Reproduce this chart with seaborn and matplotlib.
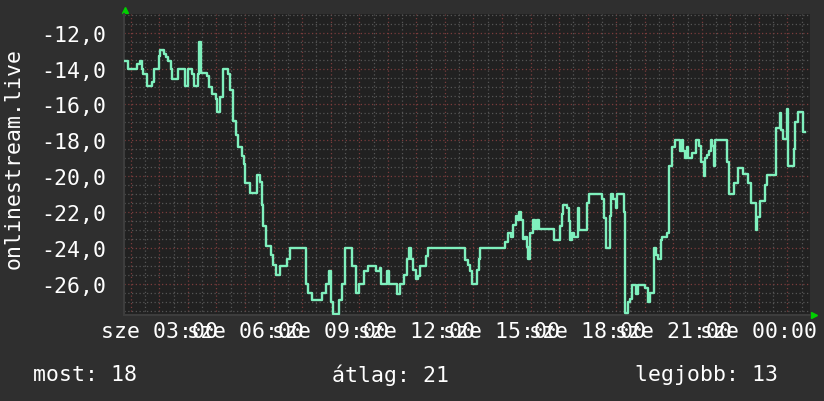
import matplotlib
matplotlib.use("Agg")
import matplotlib.pyplot as plt
import matplotlib.transforms as mtrans
from matplotlib.ticker import MultipleLocator, FuncFormatter
import pandas as pd
import seaborn as sns

# ---- data (hours of the day, value) ----
hours = [1.79, 1.91, 2.20, 2.32, 2.40, 2.43, 2.55, 2.74, 2.81, 2.98, 3.02, 3.16, 3.23, 3.30,
         3.39, 3.45, 3.64, 3.90, 3.99, 4.14, 4.20, 4.34, 4.38, 4.46, 4.67, 4.74, 4.86, 4.97,
         5.01, 5.13, 5.23, 5.42, 5.49, 5.58, 5.68, 5.77, 5.91, 5.96, 6.00, 6.17, 6.41, 6.52,
         6.58, 6.64, 6.75, 6.90, 6.99, 7.10, 7.22, 7.46, 7.57, 8.13, 8.20, 8.34, 8.69, 8.83,
         8.94, 9.01, 9.08, 9.29, 9.39, 9.50, 9.75, 9.88, 9.99, 10.16, 10.30, 10.58, 10.72,
         10.76, 10.96, 11.05, 11.31, 11.42, 11.56, 11.66, 11.73, 11.80, 11.89, 11.98, 12.06,
         12.12, 12.33, 12.41, 13.70, 13.82, 13.88, 13.96, 14.11, 14.19, 14.23, 15.11, 15.22,
         15.30, 15.39, 15.48, 15.55, 15.60, 15.66, 15.72, 15.81, 15.86, 15.92, 15.98, 16.07,
         16.15, 16.23, 16.30, 16.82, 17.03, 17.09, 17.14, 17.28, 17.35, 17.40, 17.47, 17.52,
         17.66, 17.70, 17.98, 18.05, 18.49, 18.57, 18.63, 18.78, 18.81, 18.89, 18.99, 19.04,
         19.27, 19.30, 19.43, 19.50, 19.55, 19.71, 19.76, 20.00, 20.13, 20.20, 20.32, 20.41,
         20.47, 20.57, 20.62, 20.77, 20.84, 20.86, 20.97, 21.05, 21.23, 21.29, 21.35, 21.41,
         21.47, 21.52, 21.65, 21.79, 21.91, 21.97, 22.07, 22.12, 22.19, 22.25, 22.31, 22.36,
         22.41, 22.47, 22.88, 22.96, 23.12, 23.27, 23.43, 23.61, 23.71, 23.89, 23.95, 24.03,
         24.21, 24.29, 24.59, 24.73, 24.79, 24.85, 24.98, 25.02, 25.22, 25.28, 25.37, 25.53,
         25.63]
values = [-13.55, -14.0, -13.75, -13.55, -14.0, -14.3, -14.95, -14.75, -14.0, -13.3, -12.95,
          -13.2, -13.35, -13.6, -14.0, -14.55, -14.0, -14.95, -14.0, -14.3, -14.95, -14.3,
          -12.5, -14.25, -14.4, -15.05, -15.4, -15.7, -16.4, -15.6, -14.0, -14.3, -15.2,
          -16.9, -17.7, -18.4, -18.9, -19.3, -20.4, -20.95, -19.95, -20.3, -21.6, -22.8,
          -23.9, -24.4, -24.96, -25.5, -25.0, -24.6, -24.0, -26.0, -26.5, -26.9, -26.5,
          -26.0, -25.3, -27.0, -27.7, -26.9, -26.0, -24.0, -25.0, -26.5, -26.0, -25.3,
          -25.0, -25.3, -25.1, -26.0, -25.3, -26.0, -26.6, -26.0, -25.5, -24.6, -24.0,
          -24.6, -25.25, -25.75, -25.6, -25.0, -24.45, -24.0, -24.7, -24.95, -25.3, -26.0,
          -25.25, -24.6, -24.0, -23.66, -23.15, -23.4, -22.7, -22.2, -22.45, -22.0, -22.45,
          -23.5, -23.4, -23.95, -24.6, -23.2, -22.45, -22.97, -22.45, -22.97, -23.56, -22.8,
          -22.1, -21.6, -21.8, -22.5, -23.55, -23.2, -23.4, -21.8, -23.0, -21.5, -21.0,
          -21.3, -22.35, -24.0, -22.2, -21.0, -21.3, -21.8, -21.0, -22.0, -27.66, -27.0,
          -26.85, -26.05, -26.6, -26.05, -26.25, -27.0, -26.55, -24.0, -24.4, -24.6, -23.56,
          -23.4, -23.15, -22.45, -19.43, -18.35, -18.0, -18.6, -18.0, -18.6, -19.0, -18.35,
          -19.0, -18.7, -18.0, -18.3, -19.2, -20.0, -19.0, -18.8, -18.6, -18.0, -18.3,
          -19.45, -18.0, -19.2, -21.0, -20.4, -19.56, -19.9, -20.4, -21.5, -23.0, -22.3,
          -21.4, -20.5, -19.95, -17.3, -16.5, -17.4, -17.9, -16.25, -19.45, -18.5, -16.95,
          -16.4, -17.55, -17.55]

xtick_hours = [3, 6, 9, 12, 15, 18, 21, 24]
xtick_labels = ["sze 03:00", "sze 06:00", "sze 09:00", "sze 12:00",
                "sze 15:00", "sze 18:00", "sze 21:00", "sze 00:00"]
ylabel_text = "onlinestream.live"
legend_texts = ["most: 18", "átlag: 21", "legjobb: 13"]

# ---- style ----
BG = "#2f2f2f"
PLOT_BG = "#212121"
LINE = "#7ff0bd"
GRID_MINOR = "#555555"
GRID_MAJOR = "#7a3c3c"
FS = 15.5

plt.rcParams["font.family"] = ["DejaVu Sans Mono"]

W, H = 824, 402
fig = plt.figure(figsize=(W / 100, H / 100), dpi=100, facecolor=BG)
ax = fig.add_axes([124 / W, 1 - 316 / H, (810 - 124) / W, (316 - 15) / H])
ax.set_facecolor(PLOT_BG)

df = pd.DataFrame({"hour": hours, "value": values})
sns.lineplot(data=df, x="hour", y="value", ax=ax, color=LINE, linewidth=1.7,
             drawstyle="steps-post", estimator=None, sort=False, zorder=5)

ax.set_xlim(1.76, 25.79)
ax.set_ylim(-27.75, -10.95)

label_map = dict(zip(xtick_hours, xtick_labels))
ax.xaxis.set_major_locator(MultipleLocator(1))
ax.xaxis.set_minor_locator(MultipleLocator(0.5))
ax.xaxis.set_major_formatter(FuncFormatter(lambda v, p: label_map.get(int(round(v)), "")
                                           if abs(v - round(v)) < 1e-6 else ""))
ax.yaxis.set_major_locator(MultipleLocator(2))
ax.yaxis.set_minor_locator(MultipleLocator(0.5))
ax.yaxis.set_major_formatter(FuncFormatter(lambda v, p: f"{v:.1f}".replace(".", ",")))

ax.grid(which="minor", color=GRID_MINOR, linestyle=(0, (1, 2)), linewidth=0.9)
ax.grid(which="major", color=GRID_MAJOR, linestyle=(0, (1, 2)), linewidth=0.9)
ax.set_axisbelow(True)

ax.tick_params(axis="both", which="both", length=0, colors="white", labelsize=FS)
ax.tick_params(axis="x", pad=4)
ax.tick_params(axis="y", pad=13)
for lab in ax.get_xticklabels() + ax.get_yticklabels():
    lab.set_color("white")

for s in ["top", "right"]:
    ax.spines[s].set_visible(False)
for s in ["left", "bottom"]:
    ax.spines[s].set_color("#3d3d3d")
    ax.spines[s].set_linewidth(1.5)

ax.set_xlabel("")
ax.set_ylabel("")

# rrdtool-style arrows at axis ends
tr_up = mtrans.offset_copy(ax.transAxes, fig=fig, x=1, y=4, units="dots")
ax.plot([0], [1], marker="^", color="#00d000", markersize=5, transform=tr_up, clip_on=False)
tr_rt = mtrans.offset_copy(ax.transAxes, fig=fig, x=4, y=0, units="dots")
ax.plot([1], [0], marker=">", color="#00d000", markersize=5, transform=tr_rt, clip_on=False)

fig.text(14 / W, 1 - 159 / H, ylabel_text, rotation=90, color="white", fontsize=FS,
         ha="center", va="center")

legend_x = [33 / W, 332 / W, 635 / W]
for tx, xx in zip(legend_texts, legend_x):
    fig.text(xx, 1 - 375 / H, tx, color="white", fontsize=FS, ha="left", va="center")

fig.savefig("out.png", dpi=100, facecolor=BG)
